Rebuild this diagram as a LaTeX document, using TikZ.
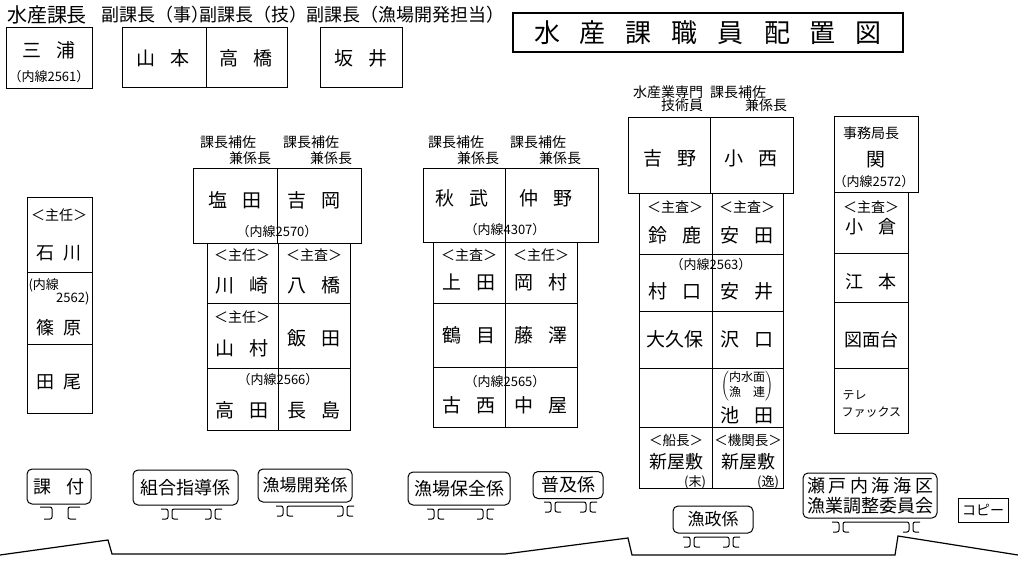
\documentclass[tikz,border=0pt]{standalone}
\usepackage{fontspec}
\setmainfont{Noto Sans CJK JP}
\newcommand\fs[1]{\fontsize{#1}{#1}\selectfont}
\newcommand\gp{\hspace{0.8em}}
\newcommand\tgap{\hspace{20pt}}
% stand under a sign: pair centres x1, x2 and top y
\newcommand\legs[3]{%
  \draw[rounded corners=2pt] (#1-8,#3+10) -- (#1-2,#3+10) -- (#1-2,#3) -- (#1-9,#3);
  \draw[rounded corners=2pt] (#1+8,#3+10) -- (#1+2,#3+10) -- (#1+2,#3) -- (#2-2,#3) -- (#2-2,#3+10) -- (#2-8,#3+10);
  \draw[rounded corners=2pt] (#2+8,#3+10) -- (#2+2,#3+10) -- (#2+2,#3) -- (#2+9,#3);}

\begin{document}
\begin{tikzpicture}[x=1pt, y=-1pt, line width=1pt,
  nm/.style={inner sep=0pt, font=\fs{19}},
  sm/.style={inner sep=0pt, font=\fs{13}},
  tg/.style={inner sep=0pt, font=\fs{14}},
  hd/.style={inner sep=0pt, font=\fs{14}},
  sign/.style={draw, rectangle, rounded corners=5pt, inner sep=0pt, font=\fs{18}}]

\useasboundingbox (0,0) rectangle (1018,562);

% desks
\draw (6,27) rectangle (92,88);
\draw (122,27) rectangle (287,87) (206,27) -- (206,87);
\draw (320,27) rectangle (402,87);
\draw[line width=1.3pt] (513,13) rectangle (903,52);

\draw (27,197) rectangle (92,413) (27,272) -- (92,272) (27,344) -- (92,344);

\draw (193,168) rectangle (361,243) (277,168) -- (277,243);
\draw (207,243) rectangle (350,430) (278,243) -- (278,430)
  (207,303) -- (350,303) (207,368) -- (350,368);

\draw (423,168) rectangle (598,242) (505,168) -- (505,242);
\draw (433,242) rectangle (577,427) (505,242) -- (505,427)
  (433,303) -- (577,303) (433,367) -- (577,367);

\draw (628,117) rectangle (793,193) (710,117) -- (710,193);
\draw (639,193) rectangle (783,488) (712,193) -- (712,488)
  (639,254) -- (783,254) (639,311) -- (783,311)
  (639,368) -- (783,368) (639,427) -- (783,427);

\draw (834,116) rectangle (918,192);
\draw (834,192) rectangle (908,433) (834,253) -- (908,253)
  (834,302) -- (908,302) (834,368) -- (908,368);

% floor line
\draw[line width=1.2pt] (0,555) -- (108,540) -- (112,554) -- (505,554) -- (628,538)
  -- (632,555) -- (895,555) -- (898,536) -- (1018,555);

% top row
\node[inner sep=0pt, font=\fs{20}] (hkacho) at (47,15) {水産課長};%
\node[nm, font=\fs{18}] (hfuku1) at (155,15) {副課長（事）};%
\node[nm, font=\fs{18}] (hfuku2) at (253,15) {副課長（技）};%
\node[nm, font=\fs{18}] (hfuku3) at (405,15) {副課長（漁場開発担当）};%
\node[inner sep=0pt, font=\fs{26}] (title) at (708,33)
{水\tgap 産\tgap 課\tgap 職\tgap 員\tgap 配\tgap 置\tgap 図};%

\node[nm] (miura) at (49,50) {三\gp 浦};%
\node[sm] (miurat) at (49,77) {（内線2561）};%
\node[nm] (yamamoto) at (163,58) {山\gp 本};%
\node[nm] (takahashi) at (246,58) {高\gp 橋};%
\node[nm] (sakai) at (361,58) {坂\gp 井};%

% left column
\node[tg] (ishikawat) at (59,215) {＜主任＞};%
\node[nm, font=\fs{18}] (ishikawa) at (59,253) {石\hspace{.55em}川};%
\node[sm, anchor=west] (shinoharat1) at (28,285) {(内線};%
\node[sm, anchor=east] (shinoharat2) at (90,298) {2562)};%
\node[nm, font=\fs{18}] (shinohara) at (59,328) {篠\hspace{.55em}原};%
\node[nm, font=\fs{18}] (tao) at (59,382) {田\hspace{.55em}尾};%

% group 1
\node[hd] (h1a) at (228,142) {課長補佐};%
\node[hd] (h1b) at (250,158) {兼係長};%
\node[hd] (h1c) at (311,142) {課長補佐};%
\node[hd] (h1d) at (331,158) {兼係長};%
\node[nm] (shioda) at (235,200) {塩\gp 田};%
\node[nm] (yoshioka) at (314,200) {吉\gp 岡};%
\node[sm] (t2570) at (277,232) {（内線2570）};%
\node[tg] (kawasakit) at (242,255) {＜主任＞};%
\node[nm] (kawasaki) at (242,285) {川\gp 崎};%
\node[tg] (yatsuhashit) at (314,255) {＜主査＞};%
\node[nm] (yatsuhashi) at (314,285) {八\gp 橋};%
\node[tg] (yamamurat) at (242,317) {＜主任＞};%
\node[nm] (yamamura) at (242,348) {山\gp 村};%
\node[nm] (iida) at (314,338) {飯\gp 田};%
\node[sm] (t2566) at (278,380) {（内線2566）};%
\node[nm] (takada) at (242,410) {高\gp 田};%
\node[nm] (nagashima) at (314,410) {長\gp 島};%

% group 2
\node[hd] (h2a) at (456,142) {課長補佐};%
\node[hd] (h2b) at (478,158) {兼係長};%
\node[hd] (h2c) at (538,142) {課長補佐};%
\node[hd] (h2d) at (560,158) {兼係長};%
\node[nm] (akitake) at (462,198) {秋\gp 武};%
\node[nm] (nakano) at (546,198) {仲\gp 野};%
\node[sm] (t4307) at (505,230) {（内線4307）};%
\node[tg] (uedat) at (469,255) {＜主査＞};%
\node[nm] (ueda) at (469,282) {上\gp 田};%
\node[tg] (okamurat) at (541,255) {＜主任＞};%
\node[nm] (okamura) at (541,282) {岡\gp 村};%
\node[nm] (tsurume) at (469,335) {鶴\gp 目};%
\node[nm] (fujisawa) at (541,335) {藤\gp 澤};%
\node[sm] (t2565) at (505,382) {（内線2565）};%
\node[nm] (konishi) at (469,405) {古\gp 西};%
\node[nm] (nakaya) at (541,405) {中\gp 屋};%

% group 3
\node[hd] (h3a) at (668,92) {水産業専門};%
\node[hd] (h3b) at (682,105) {技術員};%
\node[hd] (h3c) at (738,92) {課長補佐};%
\node[hd] (h3d) at (766,105) {兼係長};%
\node[nm] (yoshino) at (670,158) {吉\gp 野};%
\node[nm] (konishi2) at (751,158) {小\gp 西};%
\node[tg] (suzukat) at (675,207) {＜主査＞};%
\node[nm] (suzuka) at (675,235) {鈴\gp 鹿};%
\node[tg] (yasudat) at (747,207) {＜主査＞};%
\node[nm] (yasuda) at (747,235) {安\gp 田};%
\node[sm] (t2563) at (711,265) {（内線2563）};%
\node[nm] (muraguchi) at (675,291) {村\gp 口};%
\node[nm] (yasui) at (747,291) {安\gp 井};%
\node[nm] (okubo) at (675,339) {大久保};%
\node[nm] (sawaguchi) at (747,339) {沢\gp 口};%
\node[inner sep=0pt, font=\fontsize{12}{13.5}\selectfont] (ikedat) at (747,386)
{$\left(\vcenter{\hbox{\begin{tabular}{@{}c@{}}内水面\\漁\hspace{1em}連\end{tabular}}}\right)$};%
\node[nm] (ikeda) at (747,415) {池\gp 田};%
\node[tg, font=\fs{13.5}] (niyashiki1t) at (676,440) {＜船長＞};%
\node[nm, font=\fs{18}] (niyashiki1) at (676,462) {新屋敷};%
\node[sm] (sue) at (695,482) {(末)};%
\node[tg, font=\fs{13.5}] (niyashiki2t) at (748,440) {＜機関長＞};%
\node[nm, font=\fs{18}] (niyashiki2) at (748,462) {新屋敷};%
\node[sm] (itsu) at (768,482) {(逸)};%

% right column
\node[hd] (jimu) at (871,133) {事務局長};%
\node[nm] (seki) at (876,160) {関};%
\node[sm] (t2572) at (874,182) {（内線2572）};%
\node[tg] (ogurat) at (871,207) {＜主査＞};%
\node[nm, font=\fs{18}] (ogura) at (871,227) {小\gp 倉};%
\node[nm, font=\fs{18}] (emoto) at (871,282) {江\gp 本};%
\node[nm, font=\fs{18}] (zumen) at (871,340) {図面台};%
\node[sm, font=\fs{12}, anchor=west] (tele1) at (842,395) {テレ};%
\node[sm, font=\fs{12}, anchor=west] (tele2) at (841,412) {ファックス};%

% signs
\node[sign, minimum width=64pt, minimum height=35pt] (katsuke) at (59,486.5) {課\hspace{.85em}付};%
\node[sign, minimum width=105pt, minimum height=35pt] (kumiai) at (185.5,487.5) {組合指導係};%
\node[sign, minimum width=94pt, minimum height=33pt, font=\fs{17}] (kaihatsu) at (305,485.5) {漁場開発係};%
\node[sign, minimum width=102pt, minimum height=33pt] (hozen) at (459,488.5) {漁場保全係};%
\node[sign, minimum width=70pt, minimum height=27pt] (fukyu) at (568,485) {普及係};%
\node[sign, minimum width=80pt, minimum height=27pt, font=\fs{17}] (gyosei) at (713,519.5) {漁政係};%
\node[sign, minimum width=134pt, minimum height=45pt, align=center, font=\fontsize{18}{20}\selectfont] (setonaikai) at (870,495.5)
{\makebox[126pt][s]{瀬\hfill 戸\hfill 内\hfill 海\hfill 海\hfill 区}\\漁業調整委員会};%
\node[draw, rectangle, inner sep=0pt, minimum width=50pt, minimum height=24pt, font=\fs{14}] (copy) at (983,510) {コピー};%

% stands
\draw[rounded corners=2pt] (40,507) -- (52,507) -- (52,519) -- (44,519);
\draw[rounded corners=2pt] (80,507) -- (68,507) -- (68,519) -- (76,519);
\legs{170}{213}{509}
\legs{285}{345}{506}
\legs{436}{485}{509}
\legs{553}{588}{502}
\legs{692}{731}{537}
\legs{841}{911}{522}

\end{tikzpicture}
\end{document}
